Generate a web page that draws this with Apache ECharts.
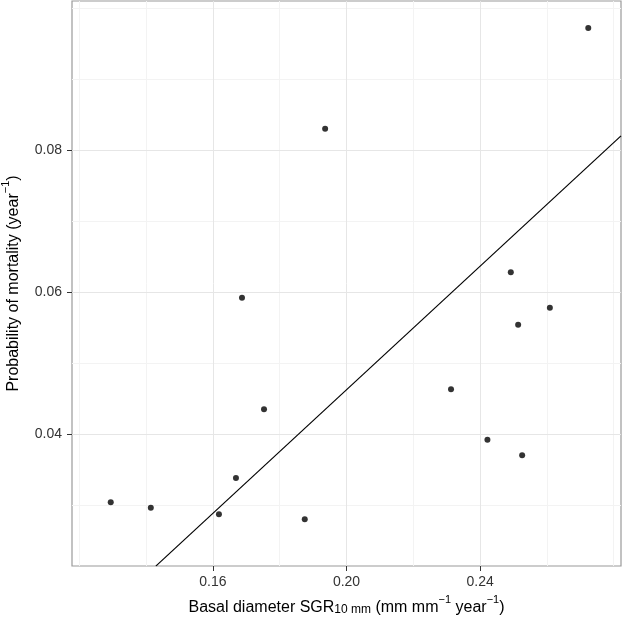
<!DOCTYPE html>
<html>
<head>
<meta charset="utf-8">
<script src="https://cdn.jsdelivr.net/npm/echarts@6/dist/echarts.min.js"></script>
<style>
  html, body { margin: 0; padding: 0; background: #fff; }
  #chart { width: 622px; height: 619px; }
</style>
</head>
<body>
<div id="chart"></div>
<script>
// growth rate (x) vs probability of mortality (y)
const growthRate = [0.1294, 0.1414, 0.1618, 0.1669, 0.1687, 0.1753, 0.1875, 0.1936,
  0.2313, 0.2422, 0.2492, 0.2514, 0.2526, 0.2609, 0.2724]
const mortality = [0.0304, 0.0296, 0.0287, 0.0338, 0.0592, 0.0435, 0.0280, 0.0830,
  0.0463, 0.0392, 0.0628, 0.0554, 0.0370, 0.0578, 0.0972]

// fitted line, read from its two ends
const fitX = [0.1429, 0.2822]
const fitY = [0.0214, 0.0820]

const xMajor = [0.16, 0.20, 0.24]
const xMinor = [0.12, 0.14, 0.18, 0.22, 0.26, 0.28]
const yMajor = [0.04, 0.06, 0.08]
const yMinor = [0.03, 0.05, 0.07, 0.09, 0.10]

const xRange = [0.1178, 0.2822]
const yRange = [0.02141, 0.10099]

let chart = echarts.init(document.getElementById('chart'))

const gridLines = []
xMinor.forEach(v => gridLines.push({ xAxis: v, lineStyle: { color: '#f3f3f3' } }))
yMinor.forEach(v => gridLines.push({ yAxis: v, lineStyle: { color: '#f3f3f3' } }))
xMajor.forEach(v => gridLines.push({ xAxis: v, lineStyle: { color: '#e6e6e6' } }))
yMajor.forEach(v => gridLines.push({ yAxis: v, lineStyle: { color: '#e6e6e6' } }))

const fontFamily = 'Liberation Sans, Arial, sans-serif'

const axisCommon = {
  type: 'value',
  axisLine: { show: false },
  splitLine: { show: false },
  axisTick: { show: true, length: 5, lineStyle: { color: '#333', width: 1 } },
  axisLabel: {
    color: '#333',
    fontSize: 14,
    fontFamily: fontFamily,
    formatter: v => v.toFixed(2)
  },
  nameLocation: 'middle',
  nameTextStyle: { color: '#000', fontSize: 16, fontFamily: fontFamily }
}

const richStyles = {
  t: { fontSize: 16, color: '#000', lineHeight: 22, verticalAlign: 'bottom', fontFamily: fontFamily },
  sup: { fontSize: 11, color: '#000', lineHeight: 12, verticalAlign: 'top', fontFamily: fontFamily },
  sub: { fontSize: 12, color: '#000', lineHeight: 12, verticalAlign: 'bottom', fontFamily: fontFamily }
}

chart.setOption({
  animation: false,
  grid: {
    left: 72, right: 1, top: 1, bottom: 53,
    outerBoundsMode: 'none',
    containLabel: false,
    show: true,
    borderColor: '#9a9a9a',
    borderWidth: 1.2,
    backgroundColor: '#fff'
  },
  xAxis: Object.assign({}, axisCommon, {
    min: xRange[0],
    max: xRange[1],
    axisTick: Object.assign({}, axisCommon.axisTick, { customValues: xMajor }),
    axisLabel: Object.assign({}, axisCommon.axisLabel, { customValues: xMajor, margin: 9 }),
    name: '{t|Basal diameter SGR}{sub|10 mm}{t| (mm mm}{sup|−1}{t| year}{sup|−1}{t|)}',
    nameGap: 28,
    nameTextStyle: Object.assign({}, axisCommon.nameTextStyle, { rich: richStyles })
  }),
  yAxis: Object.assign({}, axisCommon, {
    min: yRange[0],
    max: yRange[1],
    axisTick: Object.assign({}, axisCommon.axisTick, { customValues: yMajor }),
    axisLabel: Object.assign({}, axisCommon.axisLabel, { customValues: yMajor, margin: 10 }),
    name: '{t|Probability of mortality (year}{sup|−1}{t|)}',
    nameGap: 50,
    nameTextStyle: Object.assign({}, axisCommon.nameTextStyle, { rich: richStyles })
  }),
  series: [
    {
      // grid lines
      type: 'line',
      data: [],
      silent: true,
      z: 0,
      markLine: {
        silent: true,
        z: 0,
        symbol: 'none',
        label: { show: false },
        lineStyle: { type: 'solid', width: 1 },
        data: gridLines
      }
    },
    {
      type: 'line',
      data: fitX.map((x, i) => [x, fitY[i]]),
      showSymbol: false,
      lineStyle: { color: '#000', width: 1.2 },
      z: 6
    },
    {
      type: 'scatter',
      data: growthRate.map((x, i) => [x, mortality[i]]),
      symbolSize: 6,
      itemStyle: { color: '#000' },
      z: 7
    }
  ]
})
</script>
</body>
</html>
